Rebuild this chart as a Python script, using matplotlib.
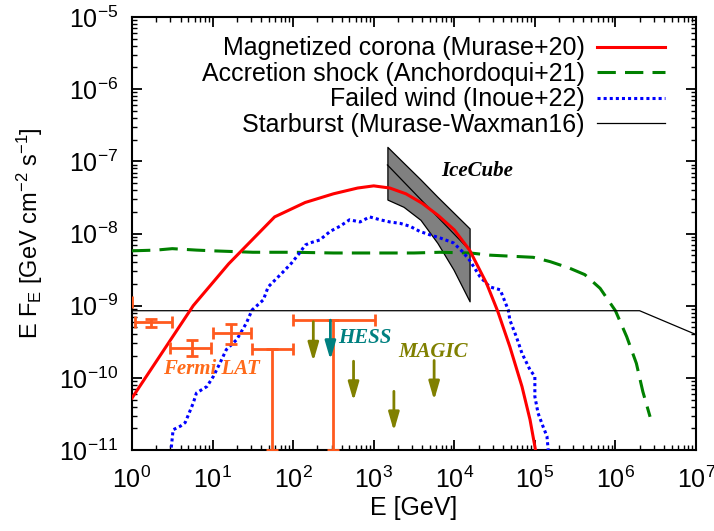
import numpy as np
import matplotlib
matplotlib.use("Agg")
import matplotlib.pyplot as plt
from matplotlib.ticker import LogLocator, NullFormatter, FixedLocator

plt.rcParams['font.family'] = ['Liberation Sans', 'DejaVu Sans']
plt.rcParams['mathtext.fontset'] = 'custom'
plt.rcParams['mathtext.rm'] = 'Liberation Sans'
plt.rcParams['mathtext.it'] = 'Liberation Sans:italic'
plt.rcParams['mathtext.bf'] = 'Liberation Sans:bold'
plt.rcParams['mathtext.default'] = 'regular'
plt.rcParams['axes.unicode_minus'] = False

# ---- model curves (log10 E [GeV], log10 E F_E [GeV cm^-2 s^-1]) ----
corona_logE = [0.0, 0.76, 1.2, 1.77, 2.15, 2.5, 2.8, 3.0, 3.2, 3.4, 3.6, 3.8,
               4.0, 4.19, 4.4, 4.54, 4.69, 4.84, 4.94, 5.0, 5.03]
corona_logF = [-10.28, -9.0, -8.42, -7.77, -7.57, -7.45, -7.37, -7.34, -7.37,
               -7.45, -7.58, -7.75, -7.95, -8.23, -8.69, -9.08, -9.57, -10.12,
               -10.58, -10.95, -11.15]

shock_logE = [0.0, 0.3, 0.5, 0.8, 1.0, 1.5, 2.0, 2.5, 3.0, 3.5, 3.82, 4.2, 4.44,
              4.98, 5.19, 5.43, 5.62, 5.81, 6.0, 6.14, 6.26, 6.34, 6.43]
shock_logF = [-8.24, -8.23, -8.21, -8.23, -8.24, -8.26, -8.26, -8.27, -8.27,
              -8.27, -8.26, -8.27, -8.30, -8.33, -8.39, -8.48, -8.57, -8.76,
              -9.07, -9.43, -9.80, -10.19, -10.54]

wind_logE = [0.48, 0.51, 0.60, 0.66, 0.76, 0.80, 0.93, 1.01, 1.09, 1.17, 1.30,
             1.42, 1.49, 1.63, 1.69, 1.86, 1.98, 2.08, 2.15, 2.21, 2.33, 2.46,
             2.58, 2.70, 2.83, 2.95, 3.08, 3.20, 3.33, 3.45, 3.57, 3.70, 3.82,
             3.99, 4.10, 4.19, 4.32, 4.44, 4.57, 4.67, 4.69, 4.77, 4.84, 4.94,
             5.00, 5.00, 5.04, 5.10, 5.15, 5.17]
wind_logF = [-11.05, -10.72, -10.67, -10.62, -10.35, -10.21, -10.12, -9.98,
             -9.80, -9.61, -9.47, -9.24, -9.06, -8.92, -8.74, -8.55, -8.41,
             -8.27, -8.16, -8.13, -8.09, -7.97, -7.90, -7.81, -7.84, -7.77,
             -7.81, -7.84, -7.86, -7.90, -7.97, -8.02, -8.06, -8.13, -8.25,
             -8.37, -8.60, -8.74, -8.78, -9.06, -9.20, -9.43, -9.66, -9.89,
             -9.98, -10.26, -10.49, -10.67, -10.81, -11.05]

starburst_logE = [0.0, 6.3, 7.0]
starburst_logF = [-9.07, -9.07, -9.40]

# ---- IceCube butterfly ----
icecube_logE = [3.17, 3.37, 3.58, 3.79, 3.99, 4.19]
icecube_logF_lo = [-7.53, -7.63, -7.81, -8.13, -8.50, -8.94]
icecube_logF_hi = [-6.80, -7.02, -7.25, -7.49, -7.71, -7.93]
icecube_fit_logE = [3.17, 4.19]
icecube_fit_logF = [-7.05, -8.23]

# ---- Fermi-LAT points ----
fermi_E = [0.55, 1.74, 5.5, 17.0, 55.0, 316.0]
fermi_Elo = [0.30, 1.08, 3.0, 10.0, 31.0, 100.0]
fermi_Ehi = [1.0, 3.1, 9.5, 30.0, 100.0, 1050.0]
fermi_F = [1.12e-9, 5.9e-10, 2.6e-10, 4.2e-10, 2.5e-10, 6.3e-10]
fermi_Flo = [0.95e-9, 5.1e-10, 2.0e-10, 2.9e-10, 1.0e-11, 1.0e-11]
fermi_Fhi = [1.3e-9, 6.5e-10, 3.3e-10, 5.6e-10, 2.5e-10, 6.3e-10]

# ---- TeV upper limits ----
hess_E = [290.0]
hess_F = [6.3e-10]
magic_E = [178.0, 562.0, 1780.0, 5620.0]
magic_F = [6.0e-10, 1.7e-10, 6.5e-11, 1.74e-10]

labels = ['Magnetized corona (Murase+20)', 'Accretion shock (Anchordoqui+21)',
          'Failed wind (Inoue+22)', 'Starburst (Murase-Waxman16)']

x_major = [1e0, 1e1, 1e2, 1e3, 1e4, 1e5, 1e6, 1e7]
y_major = [1e-11, 1e-10, 1e-9, 1e-8, 1e-7, 1e-6, 1e-5]

ORANGE = '#FF5A1E'
TEAL = '#008080'
OLIVE = '#808000'


def lg(v):
    return 10.0 ** np.asarray(v)


fig = plt.figure(figsize=(7.14, 5.31), dpi=100)
ax = fig.add_axes([132 / 714, 1 - 450 / 531, 564 / 714, 433 / 531])

# IceCube band
ax.fill_between(lg(icecube_logE), lg(icecube_logF_lo), lg(icecube_logF_hi),
                facecolor='#808080', edgecolor='black', linewidth=0.9, zorder=2)
ax.plot(lg(icecube_fit_logE), lg(icecube_fit_logF), color='black', lw=0.9, zorder=2)

l1, = ax.plot(lg(corona_logE), lg(corona_logF), color='#FF0000', lw=2.2, zorder=4)
l2, = ax.plot(lg(shock_logE), lg(shock_logF), color='#008000', lw=2.2,
              linestyle=(0, (6, 3)), zorder=3)
l3, = ax.plot(lg(wind_logE), lg(wind_logF), color='#0000FF', lw=2.2,
              linestyle=(0, (1, 1)), zorder=3)
l4, = ax.plot(lg(starburst_logE), lg(starburst_logF), color='black', lw=0.9, zorder=3)

# Fermi-LAT
fE = np.array(fermi_E)
fF = np.array(fermi_F)
ax.errorbar(fE, fF,
            xerr=[fE - np.array(fermi_Elo), np.array(fermi_Ehi) - fE],
            yerr=[fF - np.array(fermi_Flo), np.array(fermi_Fhi) - fF],
            fmt='none', ecolor=ORANGE, elinewidth=2, capsize=4, capthick=2, zorder=5)

# upper-limit arrows
arrow_drop = 10 ** -0.55
for E, F, c in [(e, f, OLIVE) for e, f in zip(magic_E, magic_F)] + \
               [(e, f, TEAL) for e, f in zip(hess_E, hess_F)]:
    ax.annotate('', xy=(E, F * arrow_drop), xytext=(E, F),
                arrowprops=dict(arrowstyle='-|>,head_length=0.55,head_width=0.16',
                                color=c, lw=2, mutation_scale=20,
                                shrinkA=0, shrinkB=0), zorder=6)

serif = dict(family=['Liberation Serif', 'DejaVu Serif'], style='italic', weight='bold')
ax.text(10 ** 4.28, 10 ** -7.13, 'IceCube', color='black', ha='center', va='center',
        fontsize=15, **serif)
ax.text(10 ** 0.98, 10 ** -9.875, 'Fermi LAT', color='#FF6A1A', ha='center',
        va='center', fontsize=15, **serif)
ax.text(10 ** 2.89, 10 ** -9.445, 'HESS', color=TEAL, ha='center', va='center',
        fontsize=15, **serif)
ax.text(10 ** 3.74, 10 ** -9.64, 'MAGIC', color=OLIVE, ha='center', va='center',
        fontsize=15, **serif)

ax.set_xscale('log')
ax.set_yscale('log')
ax.set_xlim(1, 1e7)
ax.set_ylim(1e-11, 1e-5)
ax.xaxis.set_major_locator(FixedLocator(x_major))
ax.xaxis.set_minor_locator(LogLocator(base=10, subs=np.arange(2, 10), numticks=100))
ax.xaxis.set_minor_formatter(NullFormatter())
ax.yaxis.set_major_locator(FixedLocator(y_major))
ax.yaxis.set_minor_locator(LogLocator(base=10, subs=np.arange(2, 10), numticks=100))
ax.yaxis.set_minor_formatter(NullFormatter())

ax.tick_params(which='both', direction='in', top=True, right=True, labelsize=18)
ax.tick_params(which='major', length=7, width=1.3)
ax.tick_params(which='minor', length=3.5, width=1.0)
ax.tick_params(axis='x', which='major', pad=12)
ax.tick_params(axis='y', which='major', pad=10)
for s in ax.spines.values():
    s.set_linewidth(1.5)

ax.set_xlabel('E [GeV]', fontsize=18, labelpad=2)
ax.set_ylabel(r'E F$_{E}$ [GeV cm$^{-2}$ s$^{-1}$]', fontsize=17, labelpad=10)

ax.legend([l1, l2, l3, l4], labels, loc='upper right', bbox_to_anchor=(0.945, 0.955),
          markerfirst=False, frameon=False, fontsize=18, handlelength=2.7,
          handletextpad=0.52, labelspacing=0.06, borderpad=0, borderaxespad=0)

fig.savefig('out.png', dpi=100)
